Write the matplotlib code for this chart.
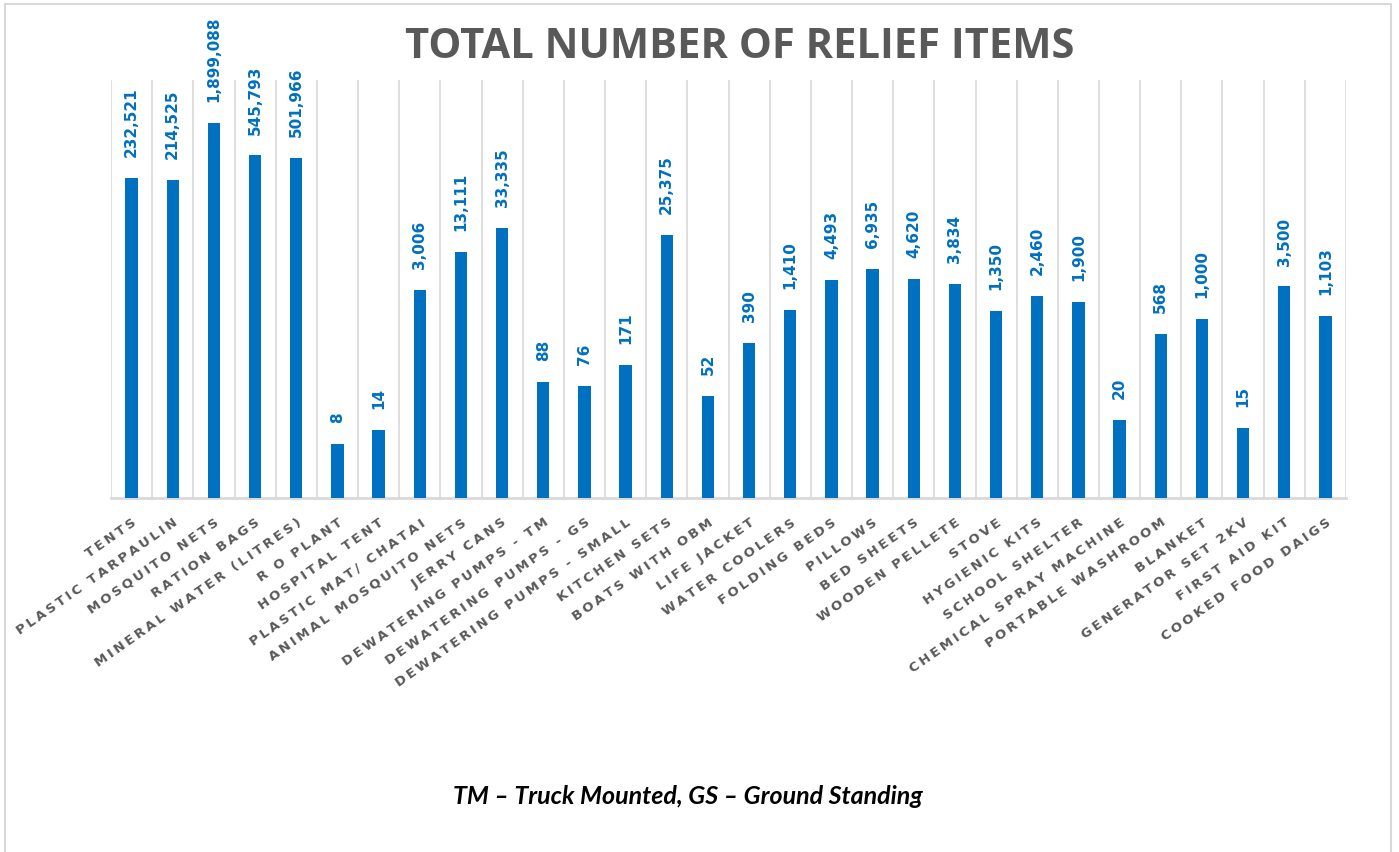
"""
relief_items.py
Bar chart of total relief items distributed (log scale, Excel look).
"""
import numpy as np
import matplotlib.pyplot as plt
from matplotlib.patches import Rectangle
from matplotlib.ticker import NullLocator, FixedLocator


ITEMS = [
    "TENTS", "PLASTIC TARPAULIN", "MOSQUITO NETS", "RATION BAGS",
    "MINERAL WATER (LITRES)", "R O PLANT", "HOSPITAL TENT",
    "PLASTIC MAT/ CHATAI", "ANIMAL MOSQUITO NETS", "JERRY CANS",
    "DEWATERING PUMPS - TM", "DEWATERING PUMPS - GS",
    "DEWATERING PUMPS - SMALL", "KITCHEN SETS", "BOATS WITH OBM",
    "LIFE JACKET", "WATER COOLERS", "FOLDING BEDS", "PILLOWS",
    "BED SHEETS", "WOODEN PELLETE", "STOVE", "HYGIENIC KITS",
    "SCHOOL SHELTER", "CHEMICAL SPRAY MACHINE", "PORTABLE WASHROOM",
    "BLANKET", "GENERATOR SET 2KV", "FIRST AID KIT", "COOKED FOOD DAIGS",
]
COUNTS = [
    232521, 214525, 1899088, 545793, 501966, 8, 14, 3006, 13111, 33335,
    88, 76, 171, 25375, 52, 390, 1410, 4493, 6935, 4620,
    3834, 1350, 2460, 1900, 20, 568, 1000, 15, 3500, 1103,
]

TITLE = "TOTAL NUMBER OF RELIEF ITEMS"
NOTE = "TM \u2013 Truck Mounted, GS \u2013 Ground Standing"

BLUE = "#0070C0"
GREY_TXT = "#595959"
GRID = "#D9D9D9"


def spaced(s, gap="\u2009"):
    # Excel draws these axis labels with extra character spacing
    return gap.join(s)


fig = plt.figure(figsize=(13.99, 8.52), dpi=100)
ax = fig.add_axes([111 / 1399, 1 - 498 / 852, 1235 / 1399, 418 / 852])

x = np.arange(len(ITEMS))
ax.bar(x, COUNTS, width=0.3, color=BLUE, zorder=3)
ax.set_yscale("log")
ax.set_ylim(1, 1e7)
ax.set_xlim(-0.5, len(ITEMS) - 0.5)

# value labels above each bar
for xi, v in zip(x, COUNTS):
    ax.annotate(f"{v:,}", xy=(xi, v), xytext=(0, 15), textcoords="offset points",
                rotation=90, ha="center", va="bottom", color=BLUE,
                fontsize=11, fontweight="bold", annotation_clip=False)

# category gridlines between bars
ax.xaxis.set_minor_locator(FixedLocator(np.arange(-0.5, len(ITEMS), 1)))
ax.grid(True, which="minor", axis="x", color=GRID, linewidth=1.2, zorder=0)
ax.yaxis.set_major_locator(NullLocator())
ax.yaxis.set_minor_locator(NullLocator())
ax.tick_params(axis="x", which="both", length=0, pad=13)
for side in ["top", "left", "right"]:
    ax.spines[side].set_visible(False)
ax.spines["bottom"].set_color(GRID)
ax.spines["bottom"].set_linewidth(2)

ax.set_xticks(x)
ax.set_xticklabels([spaced(s) for s in ITEMS], rotation=35, ha="right",
                   rotation_mode="anchor", color=GREY_TXT, fontsize=9.5,
                   fontweight="bold")

fig.text(740 / 1399, 1 - 48 / 852, TITLE, ha="center", va="center",
         fontsize=30, fontweight="bold", color=GREY_TXT, family="Open Sans")
fig.text(688 / 1399, 1 - 797 / 852, NOTE, ha="center", va="center",
         fontsize=18, fontweight="bold", style="italic", color="black",
         family="Lato")

# chart area border
fig.patches.append(Rectangle((5 / 1399, -0.01), 1386 / 1399, 1.01 - 4 / 852,
                             transform=fig.transFigure, fill=False,
                             edgecolor=GRID, linewidth=1.5))

fig.savefig("out.png", dpi=100)
